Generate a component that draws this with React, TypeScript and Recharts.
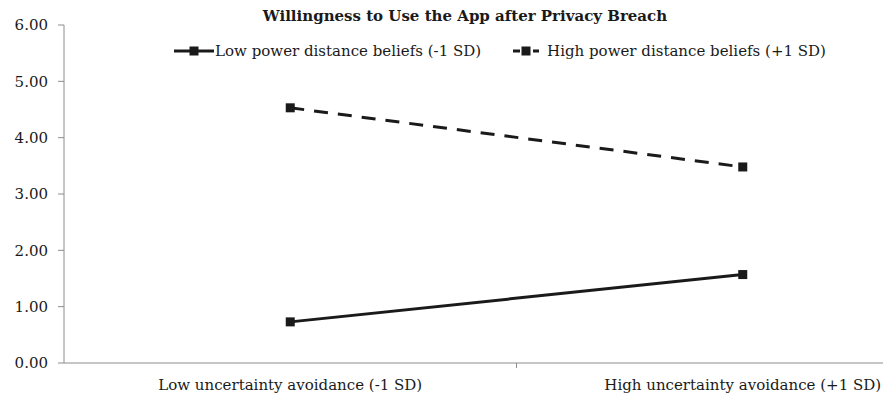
import { LineChart, Line, XAxis, YAxis, Legend } from "recharts"

const categories = ["Low uncertainty avoidance (-1 SD)", "High uncertainty avoidance (+1 SD)"]
const lowPowerDistance = [0.73, 1.57]
const highPowerDistance = [4.53, 3.48]
const yTicks = [0, 1, 2, 3, 4, 5, 6]

const seriesNames = {
  low: "Low power distance beliefs (-1 SD)",
  high: "High power distance beliefs (+1 SD)",
}

const data = categories.map((name, i) => ({
  name,
  low: lowPowerDistance[i],
  high: highPowerDistance[i],
}))

const FONT = "'DejaVu Serif', serif"
const INK = "#1a1a1a"
const AXIS = "#8c8c8c"

const SquareDot = (props: any) => {
  const { cx, cy } = props
  if (cx == null || cy == null) return null
  return <rect x={cx - 4.5} y={cy - 4.5} width={9} height={9} fill={INK} />
}

const CategoryTick = (props: any) => {
  const { x, y, payload, index } = props
  const half = payload.offset || 0
  return (
    <g>
      {index === 0 && (
        <line x1={x + half} x2={x + half} y1={y} y2={y + 5} stroke={AXIS} />
      )}
      <text x={x} y={y + 27} textAnchor="middle" fill={INK} fontSize={15} fontFamily={FONT}>
        {payload.value}
      </text>
    </g>
  )
}

const LegendContent = () => (
  <div
    style={{
      display: "flex",
      justifyContent: "center",
      gap: 30,
      fontFamily: FONT,
      fontSize: 15,
      color: INK,
    }}
  >
    <span style={{ display: "flex", alignItems: "center" }}>
      <svg width={40} height={12}>
        <line x1={0} x2={40} y1={6} y2={6} stroke={INK} strokeWidth={3} />
        <rect x={15.5} y={1.5} width={9} height={9} fill={INK} />
      </svg>
      <span style={{ marginLeft: 1 }}>{seriesNames.low}</span>
    </span>
    <span style={{ display: "flex", alignItems: "center" }}>
      <svg width={30} height={12}>
        <line x1={2} x2={28} y1={6} y2={6} stroke={INK} strokeWidth={3} strokeDasharray="7 3" />
        <rect x={10.5} y={1.5} width={9} height={9} fill={INK} />
      </svg>
      <span style={{ marginLeft: 6 }}>{seriesNames.high}</span>
    </span>
  </div>
)

export default function App() {
  return (
    <div
      style={{
        position: "absolute",
        left: 0,
        top: 0,
        width: 883,
        height: 400,
        overflow: "hidden",
        background: "#fff",
      }}
    >
      <div
        style={{
          position: "absolute",
          left: 0,
          width: 930,
          top: 7,
          textAlign: "center",
          fontFamily: FONT,
          fontWeight: "bold",
          fontSize: 15,
          color: INK,
          zIndex: 1,
        }}
      >
        Willingness to Use the App after Privacy Breach
      </div>
      <LineChart width={976} height={400} data={data} margin={{ top: 25, right: 7, bottom: 7, left: 0 }}>
        <XAxis
          dataKey="name"
          scale="band"
          stroke={AXIS}
          tickLine={false}
          tickSize={0}
          tickMargin={0}
          height={30}
          tick={<CategoryTick />}
          interval={0}
        />
        <YAxis
          domain={[0, 6]}
          ticks={yTicks}
          width={64}
          stroke={AXIS}
          tickSize={6}
          tickMargin={10}
          tickFormatter={(v: number) => v.toFixed(2)}
          tick={{ fill: INK, fontSize: 15, fontFamily: FONT }}
        />
        <Legend
          verticalAlign="middle"
          align="center"
          layout="horizontal"
          content={<LegendContent />}
          wrapperStyle={{ top: 42, left: 150, width: 700 }}
        />
        <Line
          dataKey="low"
          name={seriesNames.low}
          stroke={INK}
          strokeWidth={3}
          dot={<SquareDot />}
          activeDot={false}
          isAnimationActive={false}
        />
        <Line
          dataKey="high"
          name={seriesNames.high}
          stroke={INK}
          strokeWidth={3}
          strokeDasharray="14 10"
          dot={<SquareDot />}
          activeDot={false}
          isAnimationActive={false}
        />
      </LineChart>
    </div>
  )
}
